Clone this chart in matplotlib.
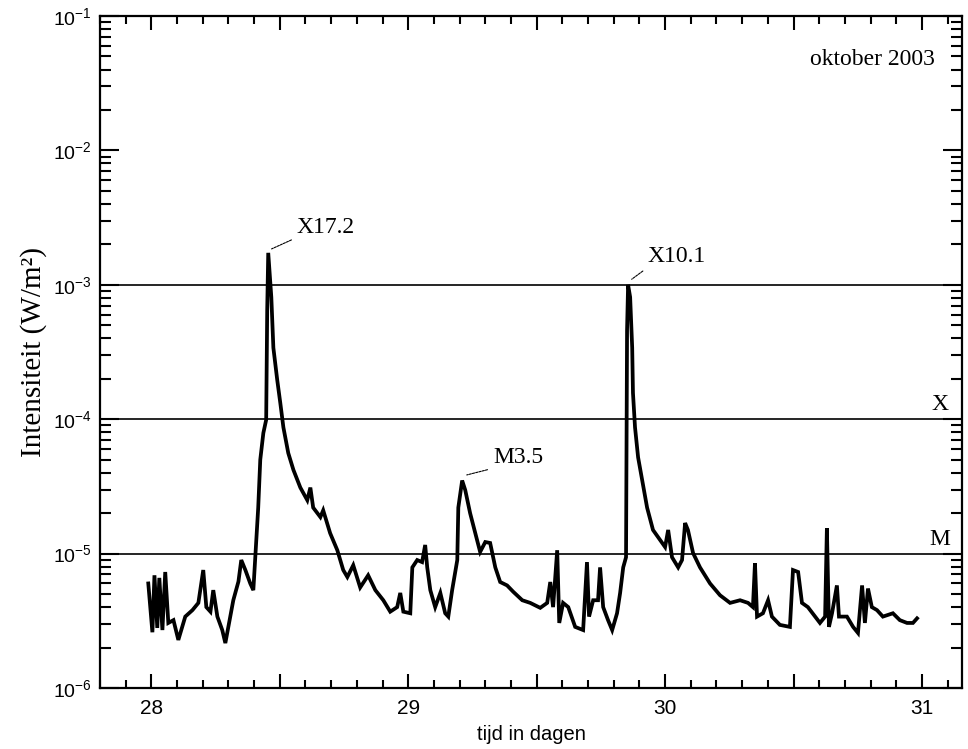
import matplotlib
matplotlib.use("Agg")
import matplotlib.pyplot as plt
from matplotlib.ticker import MultipleLocator, FuncFormatter, LogLocator

# --- data ---
time_days = [
    27.988, 28.004, 28.012, 28.023, 28.031, 28.043, 28.054, 28.066, 28.086, 28.105,
    28.132, 28.160, 28.183, 28.202, 28.214, 28.230, 28.241, 28.257, 28.276, 28.288,
    28.307, 28.319, 28.339, 28.350, 28.366, 28.385, 28.397, 28.409, 28.416, 28.424,
    28.436, 28.447, 28.451, 28.455, 28.467, 28.475, 28.490, 28.502, 28.514, 28.533,
    28.553, 28.580, 28.607, 28.619, 28.630, 28.658, 28.669, 28.696, 28.724, 28.747,
    28.763, 28.786, 28.813, 28.844, 28.872, 28.903, 28.930, 28.957, 28.969, 28.981,
    29.008, 29.016, 29.035, 29.054, 29.066, 29.074, 29.086, 29.105, 29.125, 29.144,
    29.156, 29.171, 29.191, 29.195, 29.210, 29.222, 29.241, 29.261, 29.280, 29.300,
    29.319, 29.339, 29.358, 29.385, 29.409, 29.444, 29.475, 29.514, 29.541, 29.553,
    29.564, 29.580, 29.588, 29.603, 29.623, 29.650, 29.681, 29.696, 29.704, 29.720,
    29.739, 29.747, 29.759, 29.778, 29.794, 29.813, 29.825, 29.837, 29.848, 29.852,
    29.856, 29.864, 29.872, 29.875, 29.883, 29.895, 29.911, 29.930, 29.953, 29.981,
    30.000, 30.012, 30.027, 30.051, 30.066, 30.078, 30.089, 30.109, 30.136, 30.175,
    30.214, 30.253, 30.292, 30.323, 30.342, 30.350, 30.358, 30.381, 30.401, 30.416,
    30.447, 30.486, 30.498, 30.518, 30.533, 30.556, 30.584, 30.603, 30.623, 30.630,
    30.638, 30.650, 30.669, 30.677, 30.708, 30.732, 30.751, 30.767, 30.778, 30.790,
    30.805, 30.825, 30.848, 30.887, 30.914, 30.942, 30.965, 30.981,
]
xray_flux = [
    6.0e-6, 2.6e-6, 6.9e-6, 2.8e-6, 6.6e-6, 2.7e-6, 7.3e-6, 3.05e-6, 3.2e-6, 2.28e-6,
    3.4e-6, 3.8e-6, 4.3e-6, 7.55e-6, 4.0e-6, 3.7e-6, 5.35e-6, 3.4e-6, 2.7e-6, 2.16e-6,
    3.4e-6, 4.5e-6, 6.2e-6, 8.96e-6, 7.55e-6, 6.0e-6, 5.35e-6, 1.33e-5, 2.2e-5, 5.0e-5,
    7.9e-5, 9.9e-5, 6.5e-4, 1.73e-3, 8.1e-4, 3.4e-4, 1.96e-4, 1.32e-4, 8.7e-5, 5.6e-5,
    4.2e-5, 3.1e-5, 2.5e-5, 3.1e-5, 2.2e-5, 1.87e-5, 2.1e-5, 1.42e-5, 1.06e-5, 7.55e-6,
    6.7e-6, 8.2e-6, 5.6e-6, 6.9e-6, 5.35e-6, 4.5e-6, 3.7e-6, 4.0e-6, 5.1e-6, 3.7e-6,
    3.6e-6, 7.9e-6, 8.96e-6, 8.65e-6, 1.16e-5, 7.9e-6, 5.35e-6, 4.0e-6, 5.1e-6, 3.6e-6,
    3.4e-6, 5.35e-6, 8.96e-6, 2.2e-5, 3.5e-5, 2.97e-5, 2.0e-5, 1.42e-5, 1.03e-5, 1.22e-5,
    1.20e-5, 7.9e-6, 6.15e-6, 5.8e-6, 5.2e-6, 4.5e-6, 4.3e-6, 3.95e-6, 4.3e-6, 6.15e-6,
    4.0e-6, 1.06e-5, 3.05e-6, 4.3e-6, 4.0e-6, 2.85e-6, 2.7e-6, 8.65e-6, 3.4e-6, 4.5e-6,
    4.5e-6, 7.9e-6, 4.0e-6, 3.2e-6, 2.7e-6, 3.6e-6, 5.1e-6, 7.9e-6, 9.4e-6, 4.6e-4,
    1.0e-3, 8.1e-4, 3.4e-4, 1.57e-4, 8.7e-5, 5.2e-5, 3.5e-5, 2.2e-5, 1.5e-5, 1.26e-5,
    1.12e-5, 1.5e-5, 9.4e-6, 7.9e-6, 8.96e-6, 1.69e-5, 1.5e-5, 1.01e-5, 7.9e-6, 6.0e-6,
    4.9e-6, 4.3e-6, 4.5e-6, 4.3e-6, 4.0e-6, 8.5e-6, 3.4e-6, 3.6e-6, 4.5e-6, 3.4e-6,
    2.95e-6, 2.85e-6, 7.55e-6, 7.3e-6, 4.3e-6, 4.0e-6, 3.4e-6, 3.05e-6, 3.4e-6, 1.55e-5,
    2.85e-6, 3.6e-6, 5.8e-6, 3.4e-6, 3.4e-6, 2.85e-6, 2.57e-6, 5.8e-6, 3.05e-6, 5.5e-6,
    4.0e-6, 3.8e-6, 3.4e-6, 3.6e-6, 3.2e-6, 3.05e-6, 3.05e-6, 3.3e-6,
]
class_levels = [1e-3, 1e-4, 1e-5]
class_labels = ["X", "M"]
class_label_values = [1.17e-4, 1.16e-5]
flare_names = ["X17.2", "M3.5", "X10.1"]
flare_peak_points = [(28.468, 1.85e-3), (29.228, 3.85e-5), (29.870, 1.1e-3)]
flare_text_points = [(28.566, 2.45e-3), (29.330, 4.7e-5), (29.933, 1.47e-3)]
x_labels_days = [28, 29, 30, 31]

serif = ["Liberation Serif", "DejaVu Serif"]
sans = ["Liberation Sans", "DejaVu Sans"]

fig = plt.figure(figsize=(9.68, 7.49), dpi=100)
ax = fig.add_axes([0.1033, 0.0814, 0.8905, 0.8972])

ax.set_yscale("log")
ax.set_xlim(27.80, 31.156)
ax.set_ylim(1e-6, 1e-1)

for lvl in class_levels:
    ax.axhline(lvl, color="black", lw=1.2, zorder=1)

ax.plot(time_days, xray_flux, color="black", lw=2.7, solid_joinstyle="miter", zorder=3)

for name, (px, py), (tx, ty) in zip(flare_names, flare_peak_points, flare_text_points):
    ax.annotate(name, xy=(px, py), xytext=(tx, ty), textcoords="data",
                ha="left", va="baseline", fontsize=17, family=serif,
                arrowprops=dict(arrowstyle="-", lw=0.8, color="black",
                                relpos=(0, 0), shrinkA=2, shrinkB=0,
                                linestyle=(0, (2, 1))))

for lab, val in zip(class_labels, class_label_values):
    ax.text(31.07, val, lab, ha="center", va="baseline", fontsize=17, family=serif)

ax.text(0.969, 0.927, "oktober 2003", transform=ax.transAxes, ha="right",
        va="baseline", fontsize=17, family=serif)

# ticks
ax.xaxis.set_major_locator(MultipleLocator(0.5))
ax.xaxis.set_minor_locator(MultipleLocator(0.1))
ax.xaxis.set_major_formatter(FuncFormatter(
    lambda v, p: (str(int(round(v))) if int(round(v)) in x_labels_days and abs(v - round(v)) < 1e-6 else "")))
ax.yaxis.set_major_locator(LogLocator(base=10, numticks=10))
ax.yaxis.set_minor_locator(LogLocator(base=10, subs=range(2, 10), numticks=20))

ax.tick_params(which="both", direction="in", top=True, right=True, width=1.5, colors="black")
ax.tick_params(axis="x", which="major", length=10, pad=8, labelsize=15)
ax.tick_params(axis="x", which="minor", length=6)
ax.tick_params(axis="y", which="major", length=14, pad=6, labelsize=14)
ax.tick_params(axis="y", which="minor", length=8)
for lab in ax.get_xticklabels() + ax.get_yticklabels():
    lab.set_family(sans)

for s in ax.spines.values():
    s.set_linewidth(1.6)

ax.set_xlabel("tijd in dagen", fontsize=14.5, family=sans, labelpad=5)
ax.set_ylabel("Intensiteit (W/m\u00b2)", fontsize=21, family=serif, labelpad=4)

fig.savefig("out.png", dpi=100, facecolor="white")
